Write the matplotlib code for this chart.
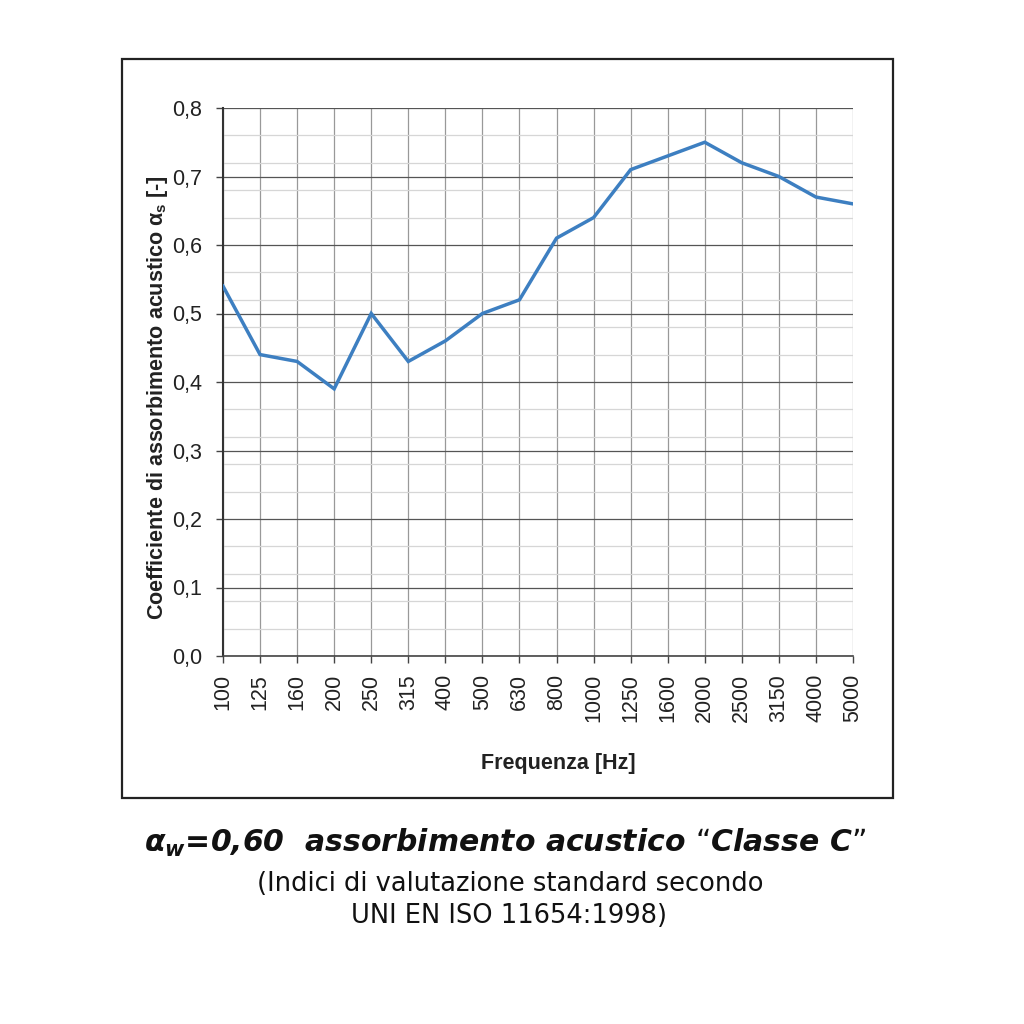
import numpy as np
import matplotlib
matplotlib.use("Agg")
import matplotlib.pyplot as plt
from matplotlib.patches import Rectangle
from matplotlib.ticker import MultipleLocator

# frequency bands (Hz) and absorption coefficient
freq_labels = ["100", "125", "160", "200", "250", "315", "400", "500", "630", "800",
               "1000", "1250", "1600", "2000", "2500", "3150", "4000", "5000"]
alpha_s = [0.54, 0.44, 0.43, 0.39, 0.50, 0.43, 0.46, 0.50, 0.52, 0.61,
           0.64, 0.71, 0.73, 0.75, 0.72, 0.70, 0.67, 0.66]

y_ticks = [0.0, 0.1, 0.2, 0.3, 0.4, 0.5, 0.6, 0.7, 0.8]
y_tick_labels = ["0,0", "0,1", "0,2", "0,3", "0,4", "0,5", "0,6", "0,7", "0,8"]

plt.rcParams['font.family'] = ['Liberation Sans', 'DejaVu Sans']

fig = plt.figure(figsize=(10.24, 10.24), dpi=100)
fig.patch.set_facecolor("white")

# outer frame around the chart
fig.patches.append(Rectangle((122/1024, 1-798/1024), (893-122)/1024, (798-59)/1024,
                             transform=fig.transFigure, fill=False,
                             edgecolor="#222222", linewidth=1.6))

ax = fig.add_axes([223/1024, 1-656/1024, 630/1024, 548/1024])

x = np.arange(len(freq_labels))
ax.plot(x, alpha_s, color="#3d7fc1", linewidth=2.5, solid_joinstyle="miter", zorder=5)

ax.set_xlim(0, len(freq_labels) - 1)
ax.set_ylim(0, 0.8)
ax.set_xticks(x)
ax.set_xticklabels(freq_labels, rotation=90, fontsize=15.5, color="#222222")
ax.set_yticks(y_ticks)
ax.set_yticklabels(y_tick_labels, fontsize=15.5, color="#222222")
ax.yaxis.set_minor_locator(MultipleLocator(0.04))

ax.grid(which="major", axis="y", color="#555555", linewidth=0.9)
ax.grid(which="minor", axis="y", color="#d6d6d6", linewidth=0.9)
ax.grid(which="major", axis="x", color="#999999", linewidth=0.9)
ax.set_axisbelow(True)

for s in ["top", "right"]:
    ax.spines[s].set_visible(False)
ax.spines["left"].set_color("#333333")
ax.spines["left"].set_linewidth(1.5)
ax.spines["bottom"].set_color("#444444")
ax.spines["bottom"].set_linewidth(1.2)
ax.tick_params(axis="both", which="major", length=5, color="#444444", width=1)
ax.tick_params(axis="y", which="minor", length=0)
ax.tick_params(axis="x", pad=8)
ax.tick_params(axis="y", pad=10)

fig.text(157/1024, 1-398/1024, "Coefficiente di assorbimento acustico α$_\\mathregular{s}$ [-]",
         rotation=90, ha="center", va="center", fontsize=15.5, fontweight="bold",
         color="#222222")
fig.text(558/1024, 1-763/1024, "Frequenza [Hz]", ha="center", va="center",
         fontsize=15.5, fontweight="bold", color="#222222")

# caption below the chart
fig.text(505/1024, 1-843/1024, "α$_\\mathregular{w}$=0,60  assorbimento acustico “Classe C”",
         ha="center", va="center", fontsize=21.5, fontweight="bold", style="italic",
         family=["DejaVu Sans"], color="#111111")
fig.text(510/1024, 1-884/1024, "(Indici di valutazione standard secondo",
         ha="center", va="center", fontsize=18.5,
         family=["DejaVu Sans"], color="#111111")
fig.text(509/1024, 1-916/1024, "UNI EN ISO 11654:1998)",
         ha="center", va="center", fontsize=18.5,
         family=["DejaVu Sans"], color="#111111")

fig.savefig("out.png", dpi=100, facecolor="white")
